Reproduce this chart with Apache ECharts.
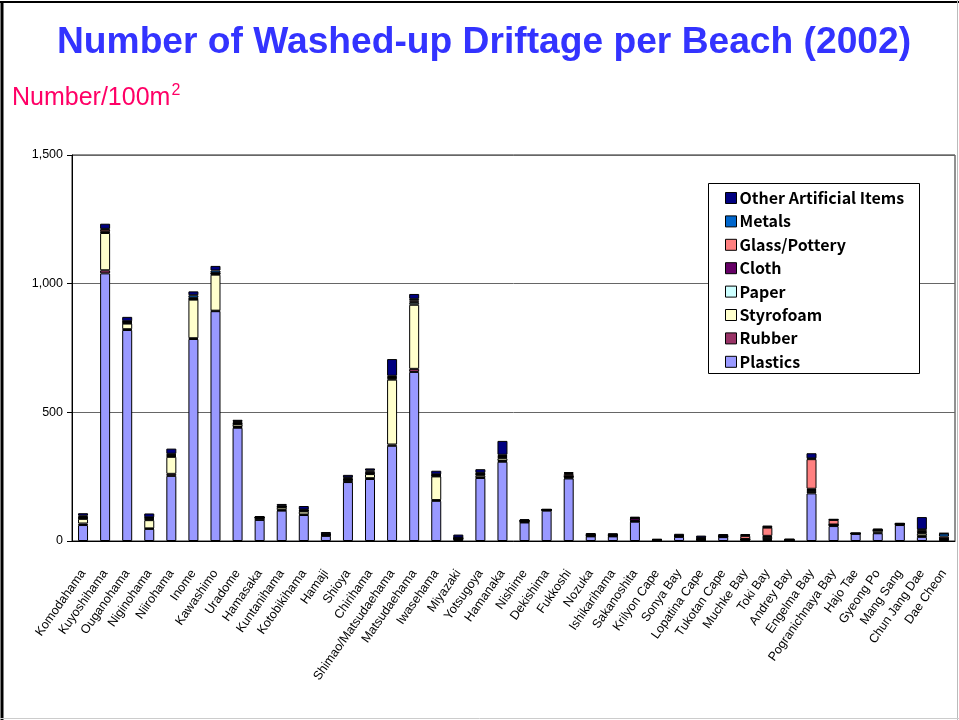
<!DOCTYPE html>
<html>
<head>
<meta charset="utf-8">
<script src="https://cdn.jsdelivr.net/npm/echarts@6/dist/echarts.min.js"></script>
<style>
html, body { margin: 0; padding: 0; background: #fff; }
#main { width: 959px; height: 720px; }
</style>
</head>
<body>
<div id="main"></div>
<script>
var beaches = ['Komodahama', 'Kuyoshihama', 'Ouganohama', 'Niginohama', 'Niirohama', 'Inome', 'Kawashimo', 'Uradome',
    'Hamasaka', 'Kuntanihama', 'Kotobikihama', 'Hamaji', 'Shioya', 'Chirihama', 'Shimao/Matsudaehama', 'Matsudaehama',
    'Iwasehama', 'Miyazaki', 'Yotsugoya', 'Hamanaka', 'Nishime', 'Dekishima', 'Fukkoshi', 'Nozuka', 'Ishikarihama',
    'Sakanoshita', 'Krilyon Cape', 'Sonya Bay', 'Lopatina Cape', 'Tukotan Cape', 'Muchke Bay', 'Toki Bay', 'Andrey Bay',
    'Engelma Bay', 'Pogranichnaya Bay', 'Hajo Tae', 'Gyeong Po', 'Mang Sang', 'Chun Jang Dae', 'Dae Cheon'];

// number / 100m2
var plastics  = [62, 1040, 820, 47, 253, 785, 893, 440, 82, 118, 101, 20, 229, 241, 370, 657, 156, 5, 245, 308, 72, 118, 243, 18, 18, 75, 2, 16, 3, 15, 3, 5, 2, 185, 58, 28, 30, 62, 16, 3];
var rubber    = [6, 12, 3, 2, 8, 3, 2, 3, 1, 2, 2, 1, 2, 3, 5, 12, 3, 1, 2, 3, 1, 1, 3, 1, 1, 1, 0, 1, 2, 1, 2, 3, 1, 5, 3, 0, 2, 1, 3, 3];
var styrofoam = [18, 145, 22, 32, 66, 150, 140, 10, 6, 10, 12, 3, 5, 16, 252, 249, 92, 3, 8, 10, 3, 1, 3, 2, 2, 1, 0, 1, 1, 1, 1, 6, 0, 3, 1, 1, 8, 1, 10, 1];
var paper     = [3, 3, 2, 3, 3, 2, 3, 2, 1, 2, 2, 1, 2, 3, 4, 8, 2, 1, 3, 3, 1, 1, 1, 1, 1, 1, 0, 1, 1, 1, 1, 2, 0, 5, 1, 0, 1, 1, 3, 1];
var cloth     = [1, 2, 2, 3, 3, 2, 1, 2, 1, 1, 1, 1, 2, 2, 3, 4, 2, 1, 2, 3, 1, 0, 2, 1, 1, 10, 1, 1, 2, 1, 1, 4, 1, 5, 1, 0, 1, 1, 3, 2];
var glass     = [3, 8, 3, 3, 3, 3, 2, 5, 1, 2, 2, 1, 4, 5, 3, 5, 2, 1, 2, 3, 1, 1, 8, 1, 1, 1, 1, 1, 3, 1, 12, 32, 1, 115, 18, 1, 1, 1, 7, 7];
var metals    = [5, 3, 2, 2, 3, 10, 10, 3, 1, 2, 2, 1, 3, 4, 5, 6, 2, 1, 3, 5, 1, 0, 4, 1, 1, 1, 1, 1, 1, 1, 2, 2, 1, 3, 1, 0, 1, 0, 3, 12];
var other     = [10, 20, 17, 15, 20, 15, 18, 6, 4, 7, 14, 7, 10, 8, 65, 19, 14, 12, 14, 54, 5, 2, 4, 6, 5, 4, 3, 6, 8, 6, 5, 6, 2, 20, 2, 1, 4, 3, 48, 2];

var yTicks = [0, 500, 1000, 1500];

var seriesNames = ['Plastics', 'Rubber', 'Styrofoam', 'Paper', 'Cloth', 'Glass/Pottery', 'Metals', 'Other Artificial Items'];
var seriesData = [plastics, rubber, styrofoam, paper, cloth, glass, metals, other];
var colors = ['#9999FF', '#993366', '#FFFFCC', '#CCFFFF', '#660066', '#FF8080', '#0066CC', '#000080'];

var series = [];
for (var i = 0; i < seriesNames.length; i++) {
    series.push({
        name: seriesNames[i],
        type: 'bar',
        stack: 'total',
        barWidth: 10,
        data: seriesData[i],
        itemStyle: {color: colors[i], borderColor: '#000', borderWidth: 1},
        emphasis: {disabled: true}
    });
}

var myChart = echarts.init(document.getElementById('main'));

var option = {
    animation: false,
    color: colors,
    title: [{
        text: 'Number of Washed-up Driftage per Beach (2002)',
        left: 52,
        top: 19,
        textStyle: {fontFamily: 'Liberation Sans', fontSize: 37.2, fontWeight: 'bold', color: '#3333FF'}
    }, {
        text: '{a|Number/100m}{b|2}',
        left: 7,
        top: 78,
        textStyle: {
            fontWeight: 'normal',
            rich: {
                a: {fontFamily: 'Liberation Sans', fontSize: 25, fontWeight: 'normal', color: '#FF0066', verticalAlign: 'bottom', lineHeight: 28},
                b: {fontFamily: 'Liberation Sans', fontSize: 16, fontWeight: 'normal', color: '#FF0066', verticalAlign: 'top', lineHeight: 28, padding: [0, 0, 0, 1]}
            }
        }
    }],
    graphic: [
        {type: 'line', shape: {x1: 2, y1: 1, x2: 2, y2: 720}, style: {stroke: '#000', lineWidth: 3}},
        {type: 'line', shape: {x1: 0, y1: 2, x2: 959, y2: 2}, style: {stroke: '#000', lineWidth: 2}},
        {type: 'line', shape: {x1: 957.5, y1: 0, x2: 957.5, y2: 720}, style: {stroke: '#bbb', lineWidth: 1}},
        {type: 'line', shape: {x1: 0, y1: 718.5, x2: 959, y2: 718.5}, style: {stroke: '#ccc', lineWidth: 1}},
        {type: 'rect', z: 3, shape: {x: 708.5, y: 183.5, width: 211, height: 190}, style: {fill: '#fff', stroke: '#000', lineWidth: 1}}
    ],
    legend: {
        orient: 'vertical',
        left: 725,
        top: 190,
        padding: 0,
        z: 5,
        icon: 'rect',
        itemWidth: 11,
        itemHeight: 11,
        itemGap: 7.4,
        data: ['Other Artificial Items', 'Metals', 'Glass/Pottery', 'Cloth', 'Paper', 'Styrofoam', 'Rubber', 'Plastics'],
        itemStyle: {borderColor: '#000', borderWidth: 1},
        textStyle: {fontFamily: 'Noto Sans CJK JP', fontWeight: 'bold', fontSize: 16, lineHeight: 16, color: '#000', padding: [0, 0, 0, -2]}
    },
    grid: {
        left: 72,
        right: 4,
        top: 155,
        bottom: 179,
        show: true,
        borderColor: '#222',
        borderWidth: 1
    },
    xAxis: {
        type: 'category',
        data: beaches,
        axisLine: {lineStyle: {color: '#000', width: 1}},
        axisTick: {inside: true, length: 4, lineStyle: {color: '#000'}},
        axisLabel: {
            interval: 0,
            rotate: 55,
            margin: 30,
            fontFamily: 'Liberation Sans',
            fontSize: 12.5,
            color: '#000'
        }
    },
    yAxis: {
        type: 'value',
        min: yTicks[0],
        max: yTicks[yTicks.length - 1],
        interval: 500,
        axisLine: {show: true, lineStyle: {color: '#000'}},
        axisTick: {show: true, length: 5, lineStyle: {color: '#000'}},
        splitLine: {lineStyle: {color: '#666', width: 1}},
        axisLabel: {
            margin: 9,
            fontFamily: 'Liberation Sans',
            fontSize: 12.5,
            color: '#000',
            formatter: function (v) { return v.toLocaleString('en-US'); }
        }
    },
    series: series
};

myChart.setOption(option);
</script>
</body>
</html>
